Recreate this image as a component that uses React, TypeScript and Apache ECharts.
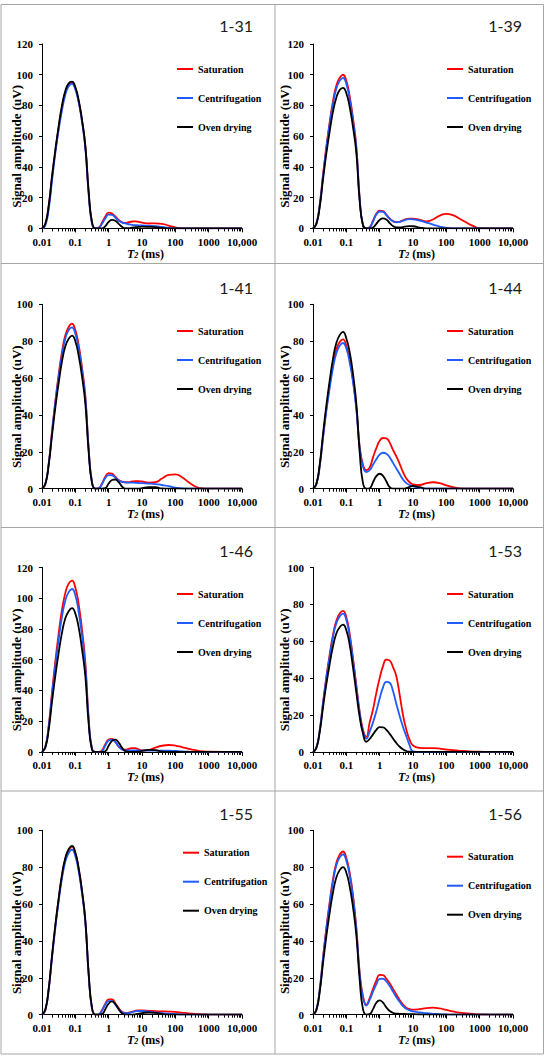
import React, { useEffect, useRef } from 'react';
import * as echarts from 'echarts';

// T2 grid (ms), shared by every curve
const T2 = [0.01, 0.0126, 0.0158, 0.02, 0.0251, 0.0316, 0.0398, 0.0501, 0.0631, 0.0794, 0.1,
  0.126, 0.158, 0.2, 0.251, 0.316, 0.398, 0.501, 0.631, 0.794, 1,
  1.26, 1.58, 2, 2.51, 3.16, 3.98, 5.01, 6.31, 7.94, 10,
  15.8, 25.1, 39.8, 63.1, 100, 158, 251, 398, 631, 1000,
  3162, 10000];

const X_TICK_LABELS = ['0.01', '0.1', '1', '10', '100', '1000', '10,000'];
const MINOR_MULTIPLIERS = [2, 3, 4, 5, 6, 7, 8, 9];
const MINOR_DECADES = [-2, -1, 0, 1, 2, 3];
const SERIES_NAMES = ['Saturation', 'Centrifugation', 'Oven drying'];
const SERIES_COLORS = ['#ff0000', '#1f5bff', '#000000'];
const SAMPLES = ['1-31', '1-39', '1-41', '1-44', '1-46', '1-53', '1-55', '1-56'];
const Y_MAX = [120, 120, 100, 100, 120, 100, 100, 100];
const Y_NAME = 'Signal amplitude (uV)';
const X_NAME = '{i|T}{s|2}{n| (ms)}';

// 1-31
const SAT_131 = [0, 2.9, 14.3, 33.3, 50.4, 65.6, 78.9, 88.4, 93.1, 95, 91.2, 82.7, 70.3, 53.2, 23.8, 3.8, 0, 0.5, 3.8, 7.8, 10.3, 9.6, 7.8, 5.5, 4, 3.6, 4, 4.5, 4.6, 4.3, 3.8, 3.2, 3.3, 3, 1.8, 0.6, 0, 0, 0, 0, 0, 0, 0];
const CEN_131 = [0, 2, 12, 31, 49, 64, 77, 87, 92.5, 94, 90.5, 82, 69.5, 52, 22, 3, 0, 0.3, 3, 6.5, 9, 8.8, 7, 5, 3.8, 3.2, 2.7, 2.3, 2.1, 2, 1.9, 1.7, 1.5, 1, 0.4, 0, 0, 0, 0, 0, 0, 0, 0];
const OVEN_131 = [0, 3, 14.5, 34, 51, 66.5, 80, 89.5, 94.5, 95.5, 92, 83.5, 71, 53.5, 24, 4, 0, 0, 0, 1.5, 4.2, 5.5, 5, 3, 1, 0.1, 0.2, 0.5, 0.8, 1, 1.1, 1, 0.8, 0.3, 0, 0, 0, 0, 0, 0, 0, 0, 0];
// 1-39
const SAT_139 = [0, 3, 15, 35, 53, 69, 83, 93, 98, 100, 96, 86, 72, 53, 20, 2, 0, 0.8, 5, 9.5, 11.5, 11.2, 9, 6.5, 4.8, 4.1, 4.3, 5.2, 6, 6.4, 6.4, 5.6, 4.6, 5.8, 8.3, 9.5, 8.6, 6.3, 3.8, 1.6, 0.2, 0, 0];
const CEN_139 = [0, 3, 14.5, 34, 52, 68, 81, 91, 96, 98, 94, 84, 70, 52, 19.5, 2, 0, 0.6, 4.5, 9, 11, 10.8, 8.6, 6.2, 4.6, 4, 4.2, 5, 5.7, 6, 5.9, 5, 3.8, 2.5, 1.2, 0.3, 0, 0, 0, 0, 0, 0, 0];
const OVEN_139 = [0, 2.8, 13.5, 32, 48.5, 63, 76, 85, 90, 91.5, 88, 79, 66, 49, 18, 2, 0, 0, 0.5, 3, 5.5, 6.5, 5.8, 3.5, 1.5, 0.6, 0.6, 0.9, 1.3, 1.5, 1.4, 0.5, 0, 0, 0, 0, 0, 0, 0, 0, 0, 0, 0];
// 1-41
const SAT_141 = [0, 2.7, 13.4, 31.3, 47.4, 61.8, 74.3, 83.2, 87.7, 89.5, 86, 78, 66, 50, 22, 3.6, 0, 0.2, 2.8, 6.5, 8.4, 8.2, 6.5, 4.8, 3.8, 3.5, 3.6, 3.9, 4.1, 4.1, 3.9, 3.3, 3.5, 5.5, 7.5, 7.8, 6.2, 3.5, 1.2, 0.2, 0, 0, 0];
const CEN_141 = [0, 2.6, 13, 30.5, 46.5, 60.5, 72.5, 81.5, 86, 87.5, 84, 76, 64.5, 49, 21.5, 3.5, 0, 0.2, 2.5, 5.8, 7.4, 7.3, 6, 4.5, 3.7, 3.4, 3.3, 3.3, 3.2, 3.1, 3, 2.8, 2.5, 2, 1.4, 0.6, 0.1, 0, 0, 0, 0, 0, 0];
const OVEN_141 = [0, 2.5, 12.5, 29, 44, 57.3, 69, 77.2, 81.3, 83, 80, 72, 61, 46, 20, 3, 0, 0, 0, 0.3, 2.8, 4.7, 5, 3.5, 1.2, 0, 0, 0, 0, 0, 0.3, 0.9, 0.8, 0.1, 0, 0, 0, 0, 0, 0, 0, 0, 0];
// 1-44
const SAT_144 = [0, 2.4, 12, 28, 43, 56, 67, 75.5, 79.5, 81, 77.5, 70, 59, 44, 23, 13, 10, 11.5, 17, 22, 26, 27.5, 27.3, 25, 21, 17.5, 13.5, 9, 5.5, 3.5, 2.3, 2, 3, 3.5, 3, 1.8, 0.8, 0.2, 0, 0, 0, 0, 0];
const CEN_144 = [0, 2.4, 11.8, 27.6, 42, 54.5, 65.5, 73.5, 77.5, 79, 76, 68.5, 58, 43, 22, 12, 9, 10, 13, 16, 18.5, 19.5, 19, 17, 14, 11, 8, 5, 3, 2, 1.3, 0.5, 0, 0, 0, 0, 0, 0, 0, 0, 0, 0, 0];
const OVEN_144 = [0, 2.6, 12.8, 29.8, 45, 58.6, 70.5, 79, 83.3, 85, 81.5, 74, 62.5, 46, 20, 3, 0, 0.2, 3.5, 6.8, 8.1, 7, 4, 0.8, 0, 0, 0, 0, 0.3, 1, 1.5, 0.8, 0, 0, 0, 0, 0, 0, 0, 0, 0, 0, 0];
// 1-46
const SAT_146 = [0, 3.3, 16.7, 39, 59, 77, 92.5, 103.5, 109.5, 111.5, 107, 96, 80, 58, 22, 2, 0, 0, 1, 5, 8, 8.5, 6.5, 3.5, 1.8, 1.5, 2, 2.5, 2.4, 1.6, 1, 1.2, 2.8, 4, 4.5, 4.1, 3.1, 2, 1.1, 0.4, 0.1, 0, 0];
const CEN_146 = [0, 3.2, 15.9, 37, 56, 73, 88, 98.5, 104, 106, 102, 91, 76, 55, 21, 2, 0, 0, 0.5, 4.2, 7.4, 8, 6.5, 3.5, 1.6, 1, 0.9, 1, 1, 0.9, 0.8, 0.8, 0.8, 0.8, 0.8, 0.6, 0.3, 0.1, 0, 0, 0, 0, 0];
const OVEN_146 = [0, 2.8, 14, 32.7, 49.5, 64.5, 77.6, 87, 91.6, 93.5, 90, 81, 67, 49, 18.5, 1.5, 0, 0, 0, 0.5, 4, 7.2, 8, 6, 2.8, 0.5, 0, 0, 0, 0.2, 0.6, 1.3, 1.2, 0.2, 0, 0, 0, 0, 0, 0, 0, 0, 0];
// 1-53
const SAT_153 = [0, 2.3, 11.5, 26.8, 40.5, 52.8, 63.5, 71.1, 75, 76.5, 73, 64, 51, 36, 22, 12, 8.2, 16, 23, 32, 40, 46.5, 50, 49.5, 46, 41, 31, 20, 12, 6.5, 3.5, 2.2, 2, 2, 1.8, 1.3, 0.9, 0.6, 0.4, 0.2, 0.1, 0, 0];
const CEN_153 = [0, 2.3, 11.3, 26.3, 39.8, 51.8, 62.3, 69.8, 73.5, 75, 71.5, 62.5, 50, 35, 21, 11, 7.2, 11, 16, 22, 29, 35, 38, 37.5, 33, 26, 19.5, 13.5, 8.5, 3.5, 0.3, 0, 0, 0, 0, 0, 0, 0, 0, 0, 0, 0, 0];
const OVEN_153 = [0, 2.1, 10.4, 24.2, 36.6, 47.6, 57.3, 64.2, 67.6, 69, 66, 58, 46, 32, 19, 10, 5.5, 7, 9.5, 12, 13.4, 13.3, 12, 9.8, 7.3, 4.8, 2.8, 1.4, 0.5, 0.1, 0, 0, 0, 0, 0, 0, 0, 0, 0, 0, 0, 0, 0];
// 1-55
const SAT_155 = [0, 2.7, 13.6, 31.8, 48.2, 62.8, 75.5, 84.6, 89.2, 91, 87.5, 79, 67, 50.5, 22, 3.5, 0, 0.2, 2.5, 6, 8.3, 8.3, 6.2, 3.6, 1.6, 1, 1.1, 1.6, 2.1, 2.3, 2.3, 2.1, 1.9, 1.8, 1.7, 1.5, 1.1, 0.7, 0.4, 0.2, 0.05, 0, 0];
const CEN_155 = [0, 2.6, 13.2, 31, 47, 61.5, 74, 83, 87.7, 89.5, 86, 77.8, 66, 50, 21.8, 3.4, 0, 0.1, 2.2, 5.5, 7.4, 7.4, 5.5, 3, 1.3, 0.8, 0.9, 1.4, 1.8, 2, 2, 1.7, 1.2, 0.9, 0.6, 0.4, 0.1, 0, 0, 0, 0, 0, 0];
const OVEN_155 = [0, 2.7, 13.7, 32, 48.5, 63, 76, 85, 89.7, 91.5, 88, 79.5, 67.5, 51, 22.5, 3.7, 0, 0, 0.3, 3, 6, 7.2, 5.8, 3, 0.8, 0, 0, 0, 0.2, 0.6, 0.9, 1.2, 1, 0.4, 0, 0, 0, 0, 0, 0, 0, 0, 0];
// 1-56
const SAT_156 = [0, 2.7, 13.3, 31, 47, 61, 73.5, 82.3, 86.7, 88.5, 85, 77, 65, 47, 23, 10, 5.5, 9, 14, 18.5, 21.6, 21.5, 19.5, 17, 14, 11, 8, 5.5, 3.8, 3, 2.7, 3, 3.6, 3.8, 3.4, 2.6, 1.8, 1.1, 0.7, 0.4, 0.2, 0, 0];
const CEN_156 = [0, 2.6, 13, 30.5, 46, 60, 72, 81, 85.3, 87, 83.5, 75.5, 64, 46, 22, 9.5, 5, 8, 12.5, 16.5, 19.4, 19.5, 18, 15.5, 12.5, 9.5, 7, 4.7, 3.2, 2.3, 1.8, 1.2, 0.8, 0.5, 0.3, 0.1, 0, 0, 0, 0, 0, 0, 0];
const OVEN_156 = [0, 2.4, 12, 28, 42.4, 55.2, 66.4, 74.4, 78.4, 80, 77, 69.5, 58.5, 43, 19, 3, 0, 0.3, 3, 6.5, 7.8, 6.5, 4, 2, 1, 0.6, 0.5, 0.4, 0.35, 0.3, 0.3, 0.1, 0, 0, 0, 0, 0, 0, 0, 0, 0, 0, 0];

const PANEL_VALUES = [
  [SAT_131, CEN_131, OVEN_131],
  [SAT_139, CEN_139, OVEN_139],
  [SAT_141, CEN_141, OVEN_141],
  [SAT_144, CEN_144, OVEN_144],
  [SAT_146, CEN_146, OVEN_146],
  [SAT_153, CEN_153, OVEN_153],
  [SAT_155, CEN_155, OVEN_155],
  [SAT_156, CEN_156, OVEN_156],
];

// layout
const COL_LEFT = [42, 313];
const PLOT_TOP = [44, 304.3, 567.5, 830.3];
const PLOT_W = 200;
const PLOT_H = 184.4;
const TITLE_RIGHT = [253, 522];
const TITLE_Y = [25, 287, 550, 813.3];
const LEGEND_LEFT = [177, 447, 177, 447, 177, 447, 183, 447];
const LEGEND_TOP = [63, 63, 325, 325, 588, 588, 846.7, 850.7];
const YNAME_X = [16, 284.5];
const BORDER = '#a6a6a6';

const SERIF = 'Liberation Serif';

function buildOption() {
  const grid: any[] = [];
  const xAxis: any[] = [];
  const yAxis: any[] = [];
  const series: any[] = [];
  const legend: any[] = [];
  const graphic: any[] = [];

  const minorTicks: number[] = [];
  MINOR_DECADES.forEach((d) => MINOR_MULTIPLIERS.forEach((m) => minorTicks.push(Math.log10(m) + d)));

  SAMPLES.forEach((sample, k) => {
    const col = k % 2;
    const row = Math.floor(k / 2);
    const left = COL_LEFT[col];
    const top = PLOT_TOP[row];
    const bottom = top + PLOT_H;
    grid.push({
      left, top, width: PLOT_W, height: PLOT_H,
      containLabel: false, outerBoundsMode: 'none',
    });
    xAxis.push({
      type: 'log', logBase: 10, gridIndex: k, min: 0.01, max: 10000,
      position: 'bottom',
      axisLine: { show: true, onZero: false, lineStyle: { color: '#000', width: 1 } },
      axisTick: { show: true, length: 4, lineStyle: { color: '#000', width: 1 } },
      axisLabel: {
        fontFamily: SERIF, fontWeight: 'bold', fontSize: 11, lineHeight: 11, color: '#000', margin: 8,
        interval: 0, showMinLabel: true, showMaxLabel: true, hideOverlap: false,
        formatter: (v: number) => X_TICK_LABELS[Math.round(Math.log10(v)) + 2] ?? '',
      },
      splitLine: { show: false },
      minorTick: { show: false },
    });
    xAxis.push({
      type: 'value', gridIndex: k, min: -2, max: 4, position: 'bottom',
      axisLine: { show: false, onZero: false },
      axisLabel: { show: false },
      splitLine: { show: false },
      axisTick: { show: true, length: 3, customValues: minorTicks, lineStyle: { color: '#000', width: 1 } },
    });
    yAxis.push({
      type: 'value', gridIndex: k, min: 0, max: Y_MAX[k], interval: 20,
      axisLine: { show: true, onZero: false, lineStyle: { color: '#000', width: 1 } },
      axisTick: { show: true, length: 3, lineStyle: { color: '#000', width: 1 } },
      axisLabel: { fontFamily: SERIF, fontWeight: 'bold', fontSize: 11, color: '#000', margin: 9 },
      splitLine: { show: false },
    });
    PANEL_VALUES[k].forEach((vals, s) => {
      series.push({
        name: SERIES_NAMES[s], type: 'line', xAxisIndex: 2 * k, yAxisIndex: k,
        data: T2.map((t, i) => [t, vals[i]]),
        smooth: true, symbol: 'none', showSymbol: false,
        lineStyle: { color: SERIES_COLORS[s], width: 1.8 },
        itemStyle: { color: SERIES_COLORS[s] },
        z: 2 + s,
      });
    });
    legend.push({
      data: SERIES_NAMES, orient: 'vertical', left: LEGEND_LEFT[k], top: LEGEND_TOP[k],
      padding: 0, icon: 'rect', itemWidth: 16, itemHeight: 2, itemGap: 17, selectedMode: false,
      textStyle: { fontFamily: SERIF, fontWeight: 'bold', fontSize: 10, color: '#000', lineHeight: 12 },
    });
    // sample title
    graphic.push({
      type: 'text', x: TITLE_RIGHT[col], y: TITLE_Y[row],
      style: { text: sample, fill: '#1a1a1a', font: '16px Lato', align: 'right', verticalAlign: 'middle' },
    });
    // y axis name
    graphic.push({
      type: 'text', x: YNAME_X[col], y: bottom - 82, rotation: Math.PI / 2,
      style: {
        text: Y_NAME, fill: '#000', fontFamily: SERIF, fontWeight: 'bold', fontSize: 13,
        align: 'center', verticalAlign: 'middle',
      },
    });
    // x axis name
    graphic.push({
      type: 'text', x: left + 103.5, y: bottom + 25.5,
      style: {
        text: X_NAME, fill: '#000', fontFamily: SERIF, fontWeight: 'bold', fontSize: 12,
        align: 'center', verticalAlign: 'middle', lineHeight: 11,
        rich: {
          i: { fontFamily: SERIF, fontWeight: 'bold', fontStyle: 'italic', fontSize: 12, fill: '#000', lineHeight: 11 },
          s: { fontFamily: SERIF, fontWeight: 'bold', fontStyle: 'italic', fontSize: 8, fill: '#000', lineHeight: 6, verticalAlign: 'bottom' },
          n: { fontFamily: SERIF, fontWeight: 'bold', fontSize: 12, fill: '#000', lineHeight: 11 },
        },
      },
    });
  });

  // panel borders
  graphic.push({ type: 'rect', shape: { x: 1, y: 4.5, width: 542.5, height: 1049.5 }, style: { fill: 'none', stroke: BORDER, lineWidth: 1 } });
  graphic.push({ type: 'line', shape: { x1: 275, y1: 4.5, x2: 275, y2: 1054 }, style: { stroke: BORDER, lineWidth: 1 } });
  [263.5, 527.5, 791].forEach((y) =>
    graphic.push({ type: 'line', shape: { x1: 1, y1: y, x2: 543.5, y2: y }, style: { stroke: BORDER, lineWidth: 1 } })
  );

  return { animation: false, backgroundColor: '#fff', grid, xAxis, yAxis, series, legend, graphic };
}

export default function App() {
  const ref = useRef<HTMLDivElement>(null);
  useEffect(() => {
    const chart = echarts.init(ref.current!, null, { renderer: 'svg' });
    chart.setOption(buildOption());
    return () => chart.dispose();
  }, []);
  return (
    <div
      ref={ref}
      style={{ position: 'absolute', left: 0, top: 0, width: 550, height: 1060, background: '#fff' }}
    />
  );
}
